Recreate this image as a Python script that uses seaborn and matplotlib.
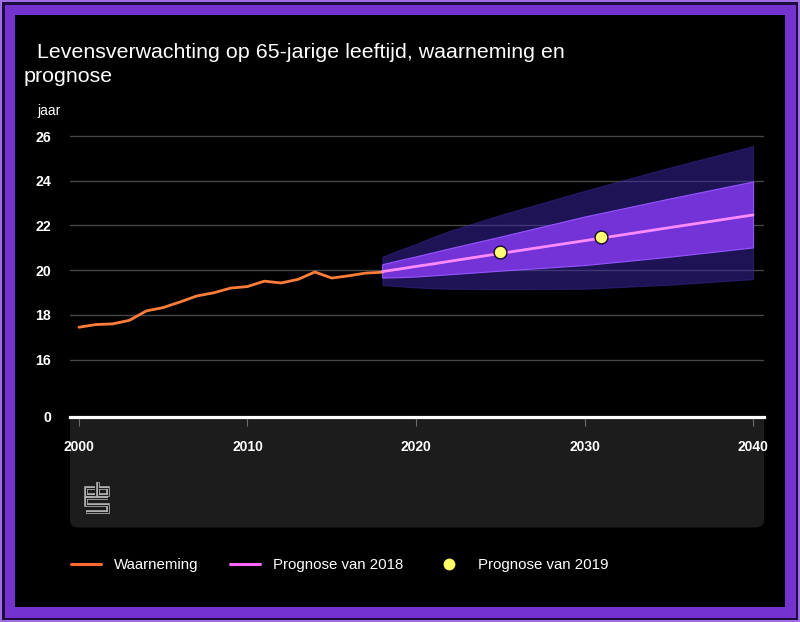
import matplotlib
matplotlib.use("Agg")
import matplotlib.pyplot as plt
import matplotlib.patheffects as pe
from matplotlib.patches import Rectangle, FancyBboxPatch
from matplotlib.lines import Line2D
import seaborn as sns

# Waarneming (observed), levensverwachting op 65 jaar
obs_years = list(range(2000, 2019))
obs_values = [17.45, 17.57, 17.60, 17.76, 18.18, 18.33, 18.58, 18.85, 18.99, 19.20,
              19.27, 19.51, 19.43, 19.59, 19.92, 19.65, 19.75, 19.87, 19.91]

# Prognose van 2018 with the two uncertainty bands
prog_years = [2018, 2019, 2020, 2021, 2022, 2025, 2030, 2035, 2040]
prog_values = [19.94, 20.05, 20.17, 20.28, 20.40, 20.75, 21.32, 21.90, 22.47]
inner_low = [19.67, 19.69, 19.72, 19.77, 19.82, 19.98, 20.23, 20.60, 21.02]
inner_high = [20.27, 20.45, 20.62, 20.80, 20.98, 21.50, 22.40, 23.20, 23.97]
outer_low = [19.34, 19.28, 19.23, 19.19, 19.17, 19.15, 19.17, 19.35, 19.60]
outer_high = [20.60, 20.90, 21.17, 21.48, 21.76, 22.47, 23.55, 24.58, 25.55]

# Prognose van 2019 (two points)
dot_years = [2025, 2031]
dot_values = [20.81, 21.48]

# axis: broken y axis, "0" sits just below 16
y_ticks = [13.45, 16, 18, 20, 22, 24, 26]
y_labels = ["0", "16", "18", "20", "22", "24", "26"]
x_ticks = [2000, 2010, 2020, 2030, 2040]

title1 = "Levensverwachting op 65-jarige leeftijd, waarneming en"
title2 = "prognose"
labels = ["Waarneming", "Prognose van 2018", "Prognose van 2019"]

sns.set_style("dark", rc={"axes.facecolor": "black", "figure.facecolor": "black"})
plt.rcParams["font.family"] = ["Liberation Sans", "DejaVu Sans"]

W, H = 800, 622
fig = plt.figure(figsize=(W / 100, H / 100), dpi=100, facecolor="#9d6fe3")


def fx(px):
    return px / W


def fy(py):
    return 1 - py / H


# purple frame
for inset, col, z in [(2, "#1d0c3d", -5), (4.5, "#7433cf", -4), (15, "black", -3)]:
    fig.add_artist(Rectangle((fx(inset), fy(H - inset)), fx(W - 2 * inset), (H - 2 * inset) / H,
                             transform=fig.transFigure, facecolor=col, edgecolor="none", zorder=z))

# dark panel below the axis
fig.add_artist(FancyBboxPatch((0.70, (H - 527.5) / 100), 6.94, (527.5 - 405) / 100,
                              boxstyle="round,pad=0,rounding_size=0.08",
                              transform=fig.dpi_scale_trans, facecolor="#1c1c1c",
                              edgecolor="none", zorder=-2))

# cbs logo
logo_parts = [
    [(94.5, 487.5), (86, 487.5), (86, 494.5), (94.5, 494.5)],
    [(98, 481.5), (98, 494.5), (107.5, 494.5), (107.5, 487.5), (98, 487.5)],
    [(107.5, 497.5), (86, 497.5), (86, 504.5), (107.5, 504.5), (107.5, 511.5), (86, 511.5)],
]
for part in logo_parts:
    xs = [p[0] / 100 for p in part]
    ys = [(H - p[1]) / 100 for p in part]
    ln = Line2D(xs, ys, transform=fig.dpi_scale_trans, color="#1c1c1c", lw=0.7,
                solid_joinstyle="miter", solid_capstyle="butt", zorder=3)
    ln.set_path_effects([pe.Stroke(linewidth=2.6, foreground="#b0b0b0"), pe.Normal()])
    fig.add_artist(ln)

ax = fig.add_axes([fx(70), fy(416.7), fx(694), (416.7 - 130) / H])
ax.set_facecolor("black")

ax.fill_between(prog_years, outer_low, outer_high, color="#3c26aa", alpha=0.5,
                lw=0.8, edgecolor="#3a2a9a", zorder=2)
ax.fill_between(prog_years, inner_low, inner_high, color="#7433d6", lw=0.8,
                edgecolor="#9457ff", zorder=3)

sns.lineplot(x=obs_years, y=obs_values, color="#ff7d3a", lw=2.0, ax=ax, zorder=4, legend=False)
sns.lineplot(x=prog_years, y=prog_values, color="#ff8cff", lw=2.0, ax=ax, zorder=4, legend=False)
sns.scatterplot(x=dot_years, y=dot_values, color="#ffff73", s=85, edgecolor="#14082e",
                linewidth=1.0, ax=ax, zorder=5, legend=False)

ax.set_xlim(1999.47, 2040.65)
ax.set_ylim(13.45, 26.27)
ax.set_xticks(x_ticks)
ax.set_xticklabels([str(x) for x in x_ticks], fontweight="bold")
ax.set_yticks(y_ticks)
ax.set_yticklabels(y_labels, fontweight="bold")
ax.set_xlabel("")
ax.set_ylabel("")

ax.yaxis.grid(True, color="#474747", lw=1.0, zorder=1)
ax.xaxis.grid(False)
ax.set_axisbelow(True)
for side in ["top", "right", "left"]:
    ax.spines[side].set_visible(False)
ax.spines["bottom"].set_color("white")
ax.spines["bottom"].set_linewidth(2.3)
ax.spines["bottom"].set_zorder(6)

ax.tick_params(axis="y", length=0, pad=13.5, labelsize=10.2, labelcolor="white")
ax.tick_params(axis="x", bottom=True, direction="out", length=6.5, width=0.8, color="#6c6c6c",
               pad=10.5, labelsize=10, labelcolor="white")

# titles and unit
fig.text(fx(37), fy(57.5), title1, color="white", fontsize=15.4, va="baseline", ha="left")
fig.text(fx(24), fy(81.5), title2, color="white", fontsize=15.4, va="baseline", ha="left")
fig.text(fx(37), fy(115), "jaar", color="white", fontsize=10, va="baseline", ha="left")

# legend
handles = [
    Line2D([], [], color="#ff6a33", lw=2.2),
    Line2D([], [], color="#ff66ff", lw=2.2),
    Line2D([], [], color="#ffff66", marker="o", markersize=8.5, lw=0, markeredgewidth=0),
]
fig.legend(handles, labels, loc="center left", bbox_to_anchor=(fx(70.6), fy(565)), ncol=3,
           frameon=False, fontsize=10.8, handlelength=2.0, handletextpad=0.87,
           columnspacing=2.1, labelcolor="white", borderpad=0, borderaxespad=0)

fig.savefig("out.png", dpi=100, facecolor=fig.get_facecolor())
